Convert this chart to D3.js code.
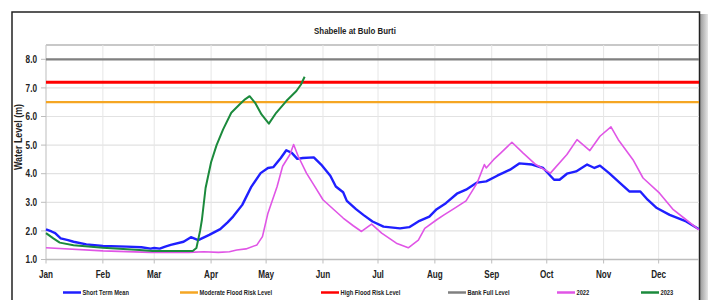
<!DOCTYPE html>
<html><head><meta charset="utf-8">
<script src="https://cdn.jsdelivr.net/npm/d3@7"></script>
<style>
body{margin:0;background:#fff;}
svg text{font-family:"Liberation Sans",Arial,sans-serif;font-weight:bold;fill:#222;}
</style></head>
<body><svg id="c" width="708" height="300"></svg>
<script>
const title = "Shabelle at Bulo Burti";
const monthLabels = ["Jan","Feb","Mar","Apr","May","Jun","Jul","Aug","Sep","Oct","Nov","Dec"];
const monthStartDays = [0,31,59,90,120,151,181,212,243,273,304,334];
const yTicks = [1,2,3,4,5,6,7,8];

const stmDays = [0,3,5,8,12,15,22,31,44,52,57,59,62,65,68,75,79,83,89,95,99,102,107,112,117,121,124,128,131,134,137,140,146,150,155,158,162,164,169,173,178,184,193,198,203,209,213,218,224,229,235,240,246,253,258,265,271,277,280,284,289,295,297,299,302,307,313,318,324,328,333,340,349,356];
const stmVals = [2.05,1.98,1.92,1.74,1.68,1.62,1.53,1.47,1.45,1.43,1.38,1.40,1.38,1.45,1.51,1.62,1.78,1.68,1.86,2.06,2.30,2.50,2.91,3.55,4.02,4.20,4.23,4.55,4.82,4.73,4.52,4.55,4.57,4.32,3.93,3.55,3.35,3.05,2.76,2.56,2.33,2.15,2.09,2.13,2.33,2.50,2.76,2.97,3.30,3.44,3.69,3.73,3.93,4.14,4.36,4.32,4.20,3.79,3.79,4.00,4.08,4.32,4.26,4.20,4.28,4.02,3.67,3.38,3.38,3.09,2.80,2.56,2.33,2.06];

const y2022Days = [0,31,57,78,86,94,100,104,109,115,118,121,126,129,133,135,137.5,142,146,151,157,162,167.5,172,177.5,183,191,197.5,203,206.5,213,217,222,229,235,239,240,244,248,254,260,267,275,284,289.5,296.5,302,308,312,320,325.5,334.5,342,349,356];
const y2022Vals = [1.41,1.30,1.25,1.25,1.27,1.25,1.27,1.33,1.37,1.51,1.80,2.62,3.55,4.26,4.67,5.02,4.61,4.02,3.61,3.09,2.74,2.45,2.18,1.98,2.24,1.92,1.57,1.41,1.68,2.09,2.39,2.56,2.76,3.05,3.67,4.32,4.20,4.49,4.73,5.10,4.73,4.32,4.02,4.67,5.19,4.81,5.31,5.64,5.19,4.49,3.85,3.32,2.74,2.39,2.04];

const y2023Days = [0,4,7.5,15,31,51,58,80,82,84,85,87,90,93,96.5,101,105.5,108.5,111,114,117.5,121.5,125.5,131,136.5,139,141];
const y2023Vals = [1.92,1.74,1.59,1.50,1.41,1.33,1.30,1.30,1.40,2.00,2.39,3.50,4.40,5.00,5.54,6.13,6.42,6.60,6.71,6.48,6.07,5.75,6.13,6.54,6.89,7.12,7.39];

const moderateLevel = 6.5, highLevel = 7.2, bankFullLevel = 8.0;
const legendNames = ["Short Term Mean","Moderate Flood Risk Level","High Flood Risk Level","Bank Full Level","2022","2023"];
const colors = {stm:"#1f1fff", mod:"#f5a623", high:"#ff0000", bank:"#808080", y22:"#e055e6", y23:"#1b8a3c"};

const svg = d3.select("#c");
const L=46, R=699, T=45, B=259.5;
const x = d3.scaleLinear().domain([0,356]).range([L,R]);
const y = d3.scaleLinear().domain([1,8.5]).range([B,T]);

function txt(sel, px, py, s, size, anchor, str, rot){
  return sel.append("text")
    .attr("transform",`translate(${px},${py})${rot?` rotate(${rot})`:""} scale(${s},1)`)
    .attr("font-size",size).attr("text-anchor",anchor).text(str);
}

// shadow at right
const grad = svg.append("defs").append("linearGradient").attr("id","sh").attr("x1","0").attr("x2","1");
grad.append("stop").attr("offset","0").attr("stop-color","#9a9a9a");
grad.append("stop").attr("offset","1").attr("stop-color","#e6e6e6");
svg.append("rect").attr("x",700).attr("y",14).attr("width",8).attr("height",286).attr("fill","url(#sh)");
// chart border
svg.append("rect").attr("x",12).attr("y",12).attr("width",687.5).attr("height",300).attr("fill","#fff").attr("stroke","#222").attr("stroke-width",1.5);

// gridlines
const g = svg.append("g");
g.selectAll(".hg").data([...yTicks,8.5]).join("line")
  .attr("x1",L).attr("x2",R).attr("y1",d=>y(d)).attr("y2",d=>y(d))
  .attr("stroke",d=>d===8.5?"#c8c8c8":"#e2e2e2").attr("stroke-width",d=>d===8.5?2:1.2);
g.selectAll(".vg").data(monthStartDays.slice(1)).join("line")
  .attr("x1",d=>x(d)).attr("x2",d=>x(d)).attr("y1",T).attr("y2",B)
  .attr("stroke","#e6e6e6").attr("stroke-width",1);
// axes
svg.append("line").attr("x1",L).attr("x2",L).attr("y1",T).attr("y2",B).attr("stroke","#c8c8c8").attr("stroke-width",1.2);
svg.append("line").attr("x1",L).attr("x2",R).attr("y1",B).attr("y2",B).attr("stroke","#bdbdbd").attr("stroke-width",1.5);
svg.selectAll(".tk").data(monthStartDays).join("line")
  .attr("x1",d=>x(d)).attr("x2",d=>x(d)).attr("y1",B).attr("y2",B+4).attr("stroke","#bdbdbd");
svg.selectAll(".ytk").data(yTicks).join("line")
  .attr("x1",L-5).attr("x2",L).attr("y1",d=>y(d)).attr("y2",d=>y(d)).attr("stroke","#bdbdbd");

yTicks.forEach(d=>txt(svg,37,y(d)+3.6,0.82,10,"end",d.toFixed(1)));
monthStartDays.forEach((d,i)=>txt(svg,x(d),278,0.74,11,"middle",monthLabels[i]));

txt(svg,355,34,0.83,9.5,"middle",title);
txt(svg,22,137,0.85,10.5,"middle","Water Level (m)",-90);

// reference levels
[[bankFullLevel,colors.bank,2.2],[highLevel,colors.high,3],[moderateLevel,colors.mod,2.2]].forEach(([v,c,w])=>{
  svg.append("line").attr("x1",L).attr("x2",R).attr("y1",y(v)).attr("y2",y(v)).attr("stroke",c).attr("stroke-width",w);
});

const line = d3.line().x(d=>x(d[0])).y(d=>y(d[1]));
function series(days, vals, color, w){
  svg.append("path").datum(days.map((d,i)=>[d,vals[i]])).attr("d",line)
    .attr("fill","none").attr("stroke",color).attr("stroke-width",w).attr("stroke-linejoin","round");
}
series(stmDays, stmVals, colors.stm, 2.4);
series(y2022Days, y2022Vals, colors.y22, 1.6);
series(y2023Days, y2023Vals, colors.y23, 2);

// legend
const legX = [63,180,321,448,557,641];
const legC = [colors.stm,colors.mod,colors.high,colors.bank,colors.y22,colors.y23];
const lg = svg.append("g");
legendNames.forEach((n,i)=>{
  lg.append("line").attr("x1",legX[i]).attr("x2",legX[i]+18).attr("y1",292.5).attr("y2",292.5).attr("stroke",legC[i]).attr("stroke-width",2.5);
  txt(lg,legX[i]+19.5,295,0.82,7,"start",n);
});
</script></body></html>
